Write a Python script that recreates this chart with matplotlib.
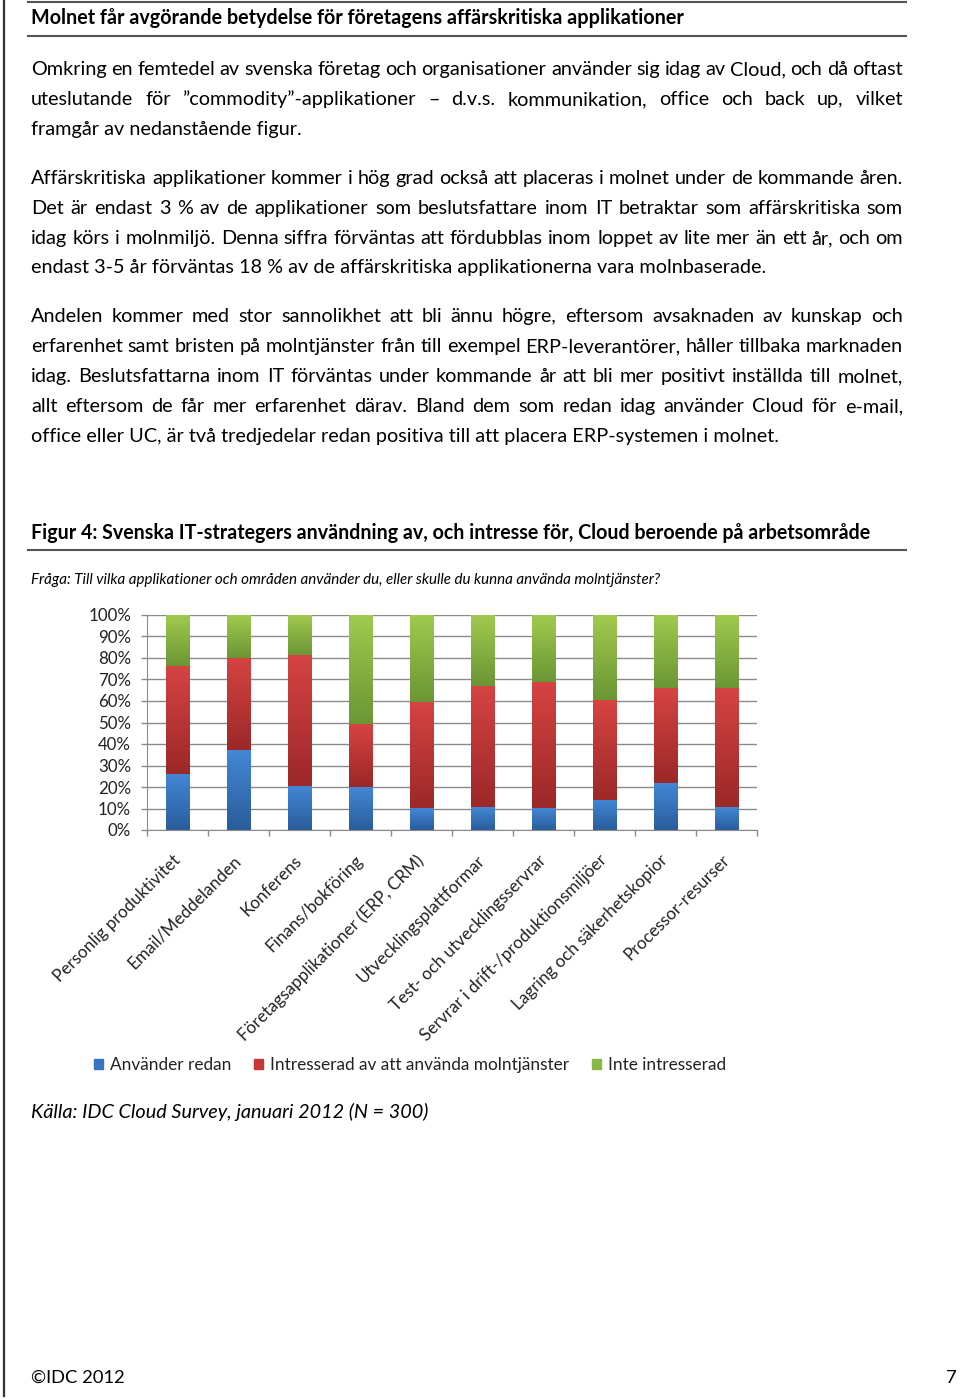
import matplotlib
matplotlib.use("Agg")
import matplotlib.pyplot as plt
import numpy as np
from matplotlib.colors import LinearSegmentedColormap
from matplotlib.patches import Patch
from matplotlib.lines import Line2D

# --- data ---
kategorier = ["Personlig produktivitet", "Email/Meddelanden", "Konferens", "Finans/bokföring",
              "Företagsapplikationer (ERP, CRM)", "Utvecklingsplattformar",
              "Test- och utvecklingsservrar", "Servrar i drift-/produktionsmiljöer",
              "Lagring och säkerhetskopior", "Processor-resurser"]
anvander_redan = [26, 37, 20.5, 20, 10, 10.5, 10, 14, 22, 10.5]
intresserad = [50.5, 43, 61, 29.5, 49.5, 56.5, 59, 46.5, 44, 55.5]
inte_intresserad = [23.5, 20, 18.5, 50.5, 40.5, 33, 31, 39.5, 34, 34]
serienamn = ["Använder redan", "Intresserad av att använda molntjänster", "Inte intresserad"]
yticks = list(range(0, 101, 10))

rubrik = "Molnet får avgörande betydelse för företagens affärskritiska applikationer"
stycken = [
    ["Omkring en femtedel av svenska företag och organisationer använder sig idag av Cloud, och då oftast",
     "uteslutande för ”commodity”-applikationer – d.v.s. kommunikation, office och back up, vilket",
     "framgår av nedanstående figur."],
    ["Affärskritiska applikationer kommer i hög grad också att placeras i molnet under de kommande åren.",
     "Det är endast 3 % av de applikationer som beslutsfattare inom IT betraktar som affärskritiska som",
     "idag körs i molnmiljö. Denna siffra förväntas att fördubblas inom loppet av lite mer än ett år, och om",
     "endast 3-5 år förväntas 18 % av de affärskritiska applikationerna vara molnbaserade."],
    ["Andelen kommer med stor sannolikhet att bli ännu högre, eftersom avsaknaden av kunskap och",
     "erfarenhet samt bristen på molntjänster från till exempel ERP-leverantörer, håller tillbaka marknaden",
     "idag. Beslutsfattarna inom IT förväntas under kommande år att bli mer positivt inställda till molnet,",
     "allt eftersom de får mer erfarenhet därav. Bland dem som redan idag använder Cloud för e-mail,",
     "office eller UC, är två tredjedelar redan positiva till att placera ERP-systemen i molnet."],
]
figurrubrik = "Figur 4: Svenska IT-strategers användning av, och intresse för, Cloud beroende på arbetsområde"
fraga = "Fråga: Till vilka applikationer och områden använder du, eller skulle du kunna använda molntjänster?"
kalla = "Källa: IDC Cloud Survey, januari 2012 (N = 300)"

W, H = 960, 1399
FONT = "Lato"
plt.rcParams["font.family"] = [FONT, "DejaVu Sans"]

fig = plt.figure(figsize=(W / 100, H / 100), dpi=100)
renderer = fig.canvas.get_renderer()


def fx(x):
    return x / W


def fy(y):
    return 1 - y / H


def bredd(t):
    return t.get_window_extent(renderer).width


def passa(s, mal, **kw):
    # fontstorlek så att texten blir mal pixlar bred
    t = fig.text(0, 0, s, fontsize=10, **kw)
    b = bredd(t)
    t.remove()
    return 10 * mal / b


def linje(x1, y1, x2, y2, lw=1.5, color="#555555"):
    fig.add_artist(Line2D([fx(x1), fx(x2)], [fy(y1), fy(y2)], transform=fig.transFigure,
                          color=color, lw=lw))


def justera(s, x0, x1, y, size):
    ord_ = s.split(" ")
    texter = [fig.text(0, fy(y), w, fontsize=size, va="baseline", color="black") for w in ord_]
    bredder = [bredd(t) for t in texter]
    glapp = (x1 - x0 - sum(bredder)) / (len(ord_) - 1)
    x = x0
    for t, b in zip(texter, bredder):
        t.set_x(fx(x))
        x += b + glapp


# --- ramar och rubriker ---
linje(4, 0, 4, 1396, lw=1.6, color="#333333")
linje(28, 2, 906, 2)
linje(28, 36, 906, 36)
linje(28, 550, 906, 550)

fig.text(fx(31), fy(24), rubrik, fontweight="bold", va="baseline",
         fontsize=passa(rubrik, 653, fontweight="bold"))

brodstorlek = passa(stycken[1][0], 872)
baslinjer = [[75, 105, 135], [184, 214, 244, 273], [322, 352, 382, 412, 442]]
for rader, ys in zip(stycken, baslinjer):
    for i, (rad, y) in enumerate(zip(rader, ys)):
        if i < len(rader) - 1:
            justera(rad, 31, 903, y, brodstorlek)
        else:
            fig.text(fx(31), fy(y), rad, fontsize=brodstorlek, va="baseline")

fig.text(fx(31), fy(539), figurrubrik, fontweight="bold", va="baseline",
         fontsize=passa(figurrubrik, 841, fontweight="bold"))
fig.text(fx(31), fy(584), fraga, style="italic", va="baseline",
         fontsize=passa(fraga, 631, style="italic"))
fig.text(fx(31), fy(1118), kalla, style="italic", va="baseline",
         fontsize=passa(kalla, 399, style="italic"))
fig.text(fx(31), fy(1383), "©IDC 2012", va="baseline", fontsize=passa("©IDC 2012", 94))
fig.text(fx(957), fy(1383), "7", va="baseline", ha="right", fontsize=passa("©IDC 2012", 94))

# --- diagram ---
ax = fig.add_axes([fx(147), fy(830), fx(757) - fx(147), (830 - 615) / H])
x = np.arange(len(kategorier))
a = np.array(anvander_redan)
b = np.array(intresserad)
c = np.array(inte_intresserad)

farger = [("#2a5d9c", "#4387d6"), ("#9c2828", "#d64343"), ("#6b9634", "#a0ca4e")]
mitt = ["#3a74c0", "#c83636", "#8ab844"]
staplar = [
    ax.bar(x, a, 0.39, color=mitt[0], zorder=2),
    ax.bar(x, b, 0.39, bottom=a, color=mitt[1], zorder=2),
    ax.bar(x, c, 0.39, bottom=a + b, color=mitt[2], zorder=2),
]
grad = np.linspace(0, 1, 64).reshape(-1, 1)
for cont, (mork, ljus) in zip(staplar, farger):
    cmap = LinearSegmentedColormap.from_list("g", [mork, ljus])
    for p in cont:
        x0, y0 = p.get_xy()
        ax.imshow(grad, extent=[x0, x0 + p.get_width(), y0, y0 + p.get_height()],
                  origin="lower", cmap=cmap, aspect="auto", zorder=2.5)

ax.set_xlim(-0.5, len(kategorier) - 0.5)
ax.set_ylim(0, 100)
ax.set_yticks(yticks)
ax.set_yticklabels([f"{v}%" for v in yticks], fontsize=12.2, color="#222222")
ax.yaxis.grid(True, color="#8a8a8a", lw=1)
ax.set_axisbelow(True)
ax.set_xticks(x)
ax.set_xticklabels(kategorier, fontsize=12.3, rotation=45, ha="right", va="center",
                   rotation_mode="anchor", color="#222222")
ax.set_xticks(np.arange(-0.5, len(kategorier), 1), minor=True)
ax.tick_params(axis="x", which="major", length=0, pad=20)
ax.tick_params(axis="x", which="minor", length=4.5, color="#8a8a8a", width=1)
ax.tick_params(axis="y", length=4.5, color="#8a8a8a", width=1, pad=7)
for s in ["top", "right"]:
    ax.spines[s].set_visible(False)
for s in ["left", "bottom"]:
    ax.spines[s].set_color("#8a8a8a")

handtag = [Patch(color=f) for f in mitt]
fig.legend(handtag, serienamn, loc="center", bbox_to_anchor=(fx(410), fy(1065)), ncol=3,
           frameon=False, fontsize=12.4, handlelength=0.55, handleheight=0.55,
           handletextpad=0.4, columnspacing=1.3, labelcolor="#222222")

fig.savefig("out.png", dpi=100)
